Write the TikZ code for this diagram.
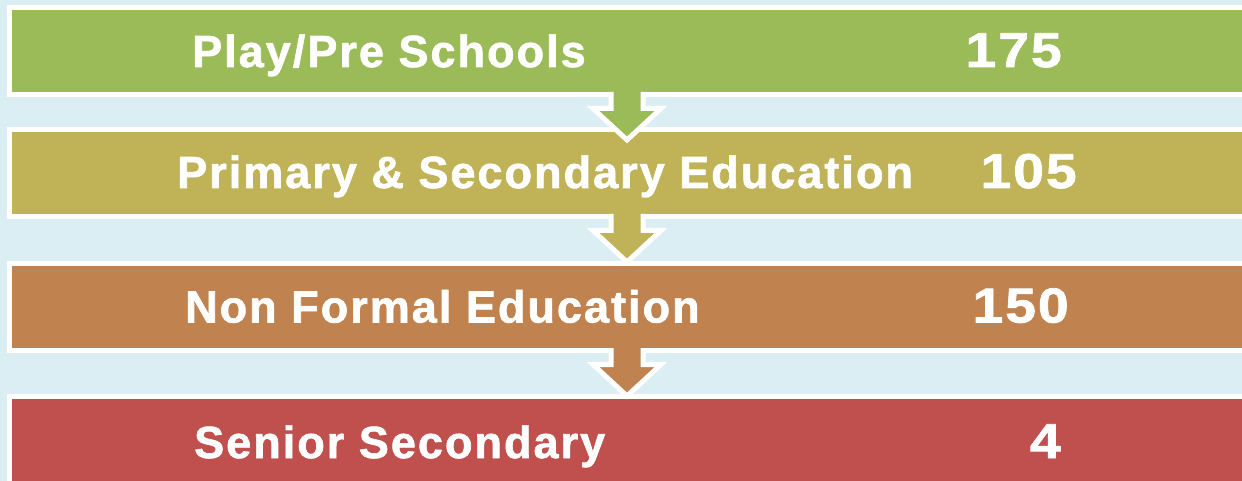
\documentclass[tikz,border=0pt]{standalone}
\usepackage{fontspec}
\setmainfont{Liberation Sans}[LetterSpace=4.5, BoldFeatures={FakeBold=1.5}]
\newfontfamily\numfont{Liberation Sans}[LetterSpace=4, FakeStretch=1.13, BoldFeatures={FakeBold=1.5}]
\usepackage{xcolor}
\usetikzlibrary{calc}

\definecolor{bgblue}{HTML}{DAEEF3}
\definecolor{playgreen}{HTML}{9BBB59}
\definecolor{primolive}{HTML}{C0B257}
\definecolor{nfbrown}{HTML}{C0834F}
\definecolor{seniorred}{HTML}{C0504D}

\tikzset{
	bar/.style={draw=white, line width=5pt, minimum width=1300pt, minimum height=87pt,
		inner sep=0pt, outer sep=0pt, anchor=north west},
	lbl/.style={text=white, font=\fontsize{45}{54}\selectfont\bfseries, inner sep=0pt, anchor=base west},
	num/.style={text=white, font=\fontsize{49}{58}\selectfont\numfont\bfseries, inner sep=0pt, anchor=base east}
}

\begin{document}
\begin{tikzpicture}[x=1pt, y=-1pt]
		\fill[bgblue] (0,0) rectangle (1242,481);
		\useasboundingbox (0,0) rectangle (1242,481);

		\node (play) [bar, fill=playgreen] at (9.5,7.5) {};
		\node (prim) [bar, fill=primolive] at (9.5,129.5) {};
		\node (nonf) [bar, fill=nfbrown] at (9.5,263.5) {};
		\node (senior) [bar, fill=seniorred] at (9.5,396.5) {};

		% arrows from one bar down into the next
		\coordinate (mid) at (627,0);
		\foreach \src/\col in {play/playgreen, prim/primolive, nonf/nfbrown}{
			\coordinate (tip) at (mid |- \src.south);
			\fill [\col, shift={(tip)}] (-16,-3) -- (-16,14) -- (-34,14) -- (0,45.5)
				-- (34,14) -- (16,14) -- (16,-3) -- cycle;
			\draw [white, line width=5pt, shift={(tip)}] (-16,-2.5) -- (-16,14) -- (-34,14)
				-- (0,45.5) -- (34,14) -- (16,14) -- (16,-2.5);
		}

		\node (playtxt) [lbl] at (192,67) {Play/Pre Schools};
		\node (primtxt) [lbl] at (177,188) {Primary \& Secondary Education};
		\node (nonftxt) [lbl] at (185,322.5) {Non Formal Education};
		\node (seniortxt) [lbl] at (194,458) {Senior Secondary};

		\node (playnum) [num] at (1062,67) {175};
		\node (primnum) [num] at (1077,188) {105};
		\node (nonfnum) [num] at (1069,322.5) {150};
		\node (seniornum) [num] at (1061,458) {4};
	\end{tikzpicture}
\end{document}
